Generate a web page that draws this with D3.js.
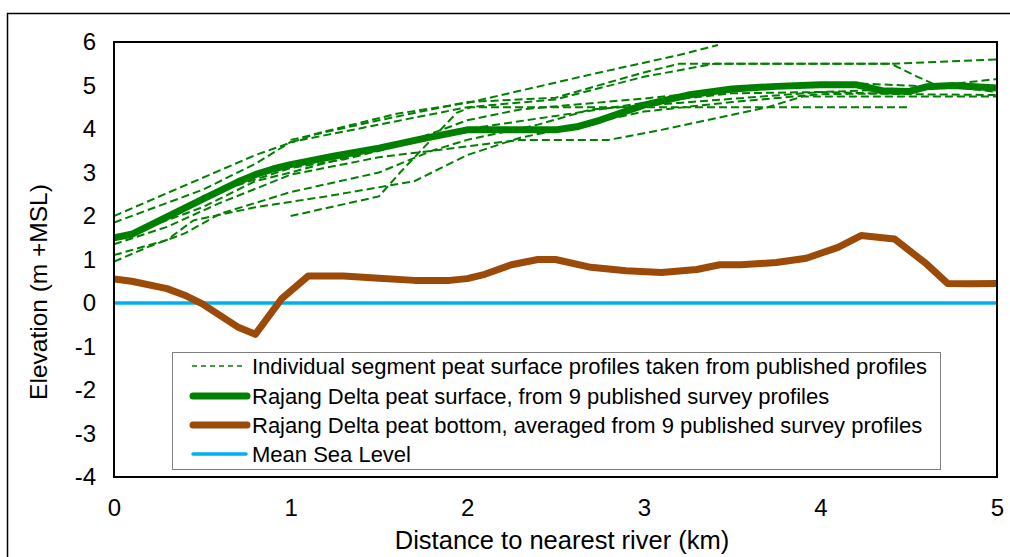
<!DOCTYPE html>
<html>
<head>
<meta charset="utf-8">
<script src="https://cdn.jsdelivr.net/npm/d3@7"></script>
<style>
  html, body { margin: 0; padding: 0; background: #fff; }
  svg { display: block; font-family: "Liberation Sans", Arial, sans-serif; }
</style>
</head>
<body>
<svg id="chart" width="1010" height="557"></svg>
<script>
// Axis ticks
const xTicks = [0, 1, 2, 3, 4, 5];
const yTicks = [6, 5, 4, 3, 2, 1, 0, -1, -2, -3, -4];

// Rajang Delta peat surface (km, m +MSL)
const surfaceKm = [0, 0.1, 0.3, 0.5, 0.7, 0.8, 0.9, 1.0, 1.25, 1.5, 1.75, 2.0, 2.25, 2.5, 2.62, 2.75, 3.0, 3.25, 3.5, 3.75, 4.0, 4.2, 4.35, 4.5, 4.6, 4.75, 5.0];
const surfaceM  = [1.5, 1.58, 1.98, 2.38, 2.78, 2.95, 3.08, 3.18, 3.38, 3.56, 3.78, 3.98, 3.98, 3.98, 4.05, 4.2, 4.55, 4.78, 4.92, 4.98, 5.02, 5.02, 4.88, 4.86, 4.97, 5.0, 4.94];

// Rajang Delta peat bottom (km, m +MSL)
const bottomKm = [0, 0.1, 0.3, 0.4, 0.5, 0.7, 0.8, 0.95, 1.1, 1.3, 1.5, 1.7, 1.9, 2.0, 2.1, 2.25, 2.4, 2.5, 2.7, 2.9, 3.1, 3.3, 3.43, 3.55, 3.75, 3.92, 4.1, 4.23, 4.42, 4.6, 4.72, 4.85, 5.0];
const bottomM  = [0.55, 0.5, 0.33, 0.18, -0.02, -0.55, -0.72, 0.1, 0.62, 0.62, 0.57, 0.52, 0.52, 0.56, 0.66, 0.88, 1.0, 1.0, 0.82, 0.74, 0.7, 0.77, 0.88, 0.88, 0.93, 1.03, 1.28, 1.55, 1.47, 0.9, 0.45, 0.44, 0.45];

// Individual segment surface profiles, each as [km, m] pairs
const seg1 = [[0, 2.0], [0.8, 3.4], [1.15, 3.9], [1.6, 4.35], [2.0, 4.6], [2.75, 5.3], [3.2, 5.7], [3.42, 5.93]];
const seg2 = [[0, 1.85], [0.5, 2.6], [0.8, 3.2], [1.0, 3.7], [1.5, 4.1], [2.0, 4.5], [2.5, 4.68], [3.0, 5.2], [3.4, 5.5], [4.4, 5.5], [5.0, 5.6]];
const seg3 = [[1.0, 3.75], [1.5, 4.2], [2.0, 4.62], [2.5, 4.72], [3.0, 5.3], [3.2, 5.5], [4.4, 5.5], [4.55, 5.2], [4.65, 5.02], [5.0, 4.85]];
const seg4 = [[0, 1.5], [0.3, 1.9], [0.5, 2.2], [0.8, 2.8], [1.0, 3.0], [1.5, 3.55], [2.0, 4.0], [2.5, 4.3], [3.0, 4.6], [3.5, 4.82], [4.0, 4.85], [4.5, 4.92], [5.0, 5.15]];
const seg5 = [[0, 1.35], [0.3, 1.75], [0.6, 2.3], [1.0, 2.95], [1.5, 3.35], [1.8, 3.5], [2.3, 3.75], [2.8, 3.75], [3.1, 3.98], [3.7, 4.5], [3.9, 4.75], [4.5, 4.75], [5.0, 4.75]];
const seg6 = [[0, 1.1], [0.3, 1.45], [0.45, 1.9], [0.8, 2.2], [1.2, 2.45], [1.7, 2.8], [2.0, 3.4], [2.3, 3.8], [2.6, 4.05], [3.0, 4.4], [3.5, 4.62], [4.0, 4.8], [4.45, 4.82]];
const seg7 = [[0, 0.95], [0.2, 1.3], [0.4, 1.6], [0.6, 2.05], [1.0, 2.55], [1.5, 3.0], [1.8, 3.5], [2.0, 3.75], [2.4, 4.1], [2.7, 4.45], [3.2, 4.6], [4.0, 4.85], [4.5, 4.8], [5.0, 4.78]];
const seg8 = [[1.0, 2.0], [1.5, 2.45], [1.62, 3.0], [1.94, 4.37], [2.02, 4.5], [4.5, 4.5]];
const seg9 = [[0.5, 2.45], [1.0, 3.1], [1.3, 3.3], [1.6, 3.6], [2.0, 4.2], [2.3, 4.45], [3.0, 4.7], [3.6, 4.95], [4.2, 5.05], [4.6, 4.98], [5.0, 4.95]];
const segments = [seg1, seg2, seg3, seg4, seg5, seg6, seg7, seg8, seg9];

const legendLabels = [
  "Individual segment peat surface profiles taken from published profiles",
  "Rajang Delta peat surface, from 9 published survey profiles",
  "Rajang Delta peat bottom, averaged from 9 published survey profiles",
  "Mean Sea Level"
];

const GREEN = "#008000", BROWN = "#9C4A08", BLUE = "#00B0F0";
const FONT = "'Liberation Sans', Arial, sans-serif";

const svg = d3.select("#chart");
const plot = { left: 114, right: 997, top: 42, bottom: 477 };

const x = d3.scaleLinear().domain([0, 5]).range([plot.left, plot.right]);
const y = d3.scaleLinear().domain([-4, 6]).range([plot.bottom, plot.top]);

// Outer frame of the figure
svg.append("rect")
  .attr("x", 7.5).attr("y", 13.5).attr("width", 1100).attr("height", 700)
  .attr("fill", "none").attr("stroke", "#000").attr("stroke-width", 1.5);

// Plain hyphen for negatives
const fmt = d => String(d);

// Axes (labels only, no tick marks)
const xAxis = svg.append("g")
  .attr("transform", `translate(0,${plot.bottom})`)
  .call(d3.axisBottom(x).tickValues(xTicks).tickSize(0).tickPadding(22).tickFormat(fmt));
xAxis.select(".domain").remove();
xAxis.selectAll("text").attr("font-size", 24).attr("fill", "#000").attr("font-family", FONT);

const yAxis = svg.append("g")
  .attr("transform", `translate(${plot.left},0)`)
  .call(d3.axisLeft(y).tickValues(yTicks).tickSize(0).tickPadding(18).tickFormat(fmt));
yAxis.select(".domain").remove();
yAxis.selectAll("text").attr("font-size", 24).attr("fill", "#000").attr("font-family", FONT);

// Axis titles
svg.append("text")
  .attr("x", 562).attr("y", 549)
  .attr("text-anchor", "middle").attr("font-size", 25.5).attr("fill", "#000")
  .text("Distance to nearest river (km)");
svg.append("text")
  .attr("transform", `translate(47,292) rotate(-90)`)
  .attr("text-anchor", "middle").attr("font-size", 24.5).attr("fill", "#000")
  .text("Elevation (m +MSL)");

const line = d3.line().x(d => x(d[0])).y(d => y(d[1]));
svg.append("clipPath").attr("id", "plotclip").append("rect")
  .attr("x", plot.left).attr("y", plot.top - 2)
  .attr("width", plot.right - plot.left).attr("height", plot.bottom - plot.top + 2);

const g = svg.append("g").attr("clip-path", "url(#plotclip)");

// Mean sea level
g.append("path")
  .attr("d", line([[0, 0], [5, 0]]))
  .attr("fill", "none").attr("stroke", BLUE).attr("stroke-width", 3.5);

// Peat bottom
g.append("path")
  .attr("d", line(bottomKm.map((k, i) => [k, bottomM[i]])))
  .attr("fill", "none").attr("stroke", BROWN).attr("stroke-width", 7)
  .attr("stroke-linejoin", "round");

// Individual profiles
g.selectAll("path.seg").data(segments).join("path")
  .attr("class", "seg")
  .attr("d", line)
  .attr("fill", "none").attr("stroke", GREEN).attr("stroke-width", 2)
  .attr("stroke-dasharray", "8,4");

// Peat surface
g.append("path")
  .attr("d", line(surfaceKm.map((k, i) => [k, surfaceM[i]])))
  .attr("fill", "none").attr("stroke", GREEN).attr("stroke-width", 7)
  .attr("stroke-linejoin", "round");

// Plot frame
svg.append("rect")
  .attr("x", plot.left).attr("y", plot.top)
  .attr("width", plot.right - plot.left).attr("height", plot.bottom - plot.top)
  .attr("fill", "none").attr("stroke", "#000").attr("stroke-width", 2);

// Legend
const lg = svg.append("g");
lg.append("rect")
  .attr("x", 172.5).attr("y", 352.5).attr("width", 768).attr("height", 117)
  .attr("fill", "#fff").attr("stroke", "#7f7f7f").attr("stroke-width", 1);
const legendStyles = [
  { color: GREEN, width: 1.5, dash: "5,4", x0: 192, x1: 246 },
  { color: GREEN, width: 7, dash: null, x0: 193, x1: 247 },
  { color: BROWN, width: 7, dash: null, x0: 193, x1: 247 },
  { color: BLUE, width: 3.5, dash: null, x0: 193, x1: 246 }
];
const rowY = [366, 396, 425, 454];
legendLabels.forEach((t, i) => {
  const s = legendStyles[i];
  lg.append("line")
    .attr("x1", s.x0).attr("x2", s.x1).attr("y1", rowY[i]).attr("y2", rowY[i])
    .attr("stroke", s.color).attr("stroke-width", s.width)
    .attr("stroke-linecap", s.dash ? "butt" : "round")
    .attr("stroke-dasharray", s.dash);
  lg.append("text")
    .attr("x", 252).attr("y", rowY[i] + 7.5)
    .attr("font-size", 22).attr("fill", "#000")
    .text(t);
});
</script>
</body>
</html>
